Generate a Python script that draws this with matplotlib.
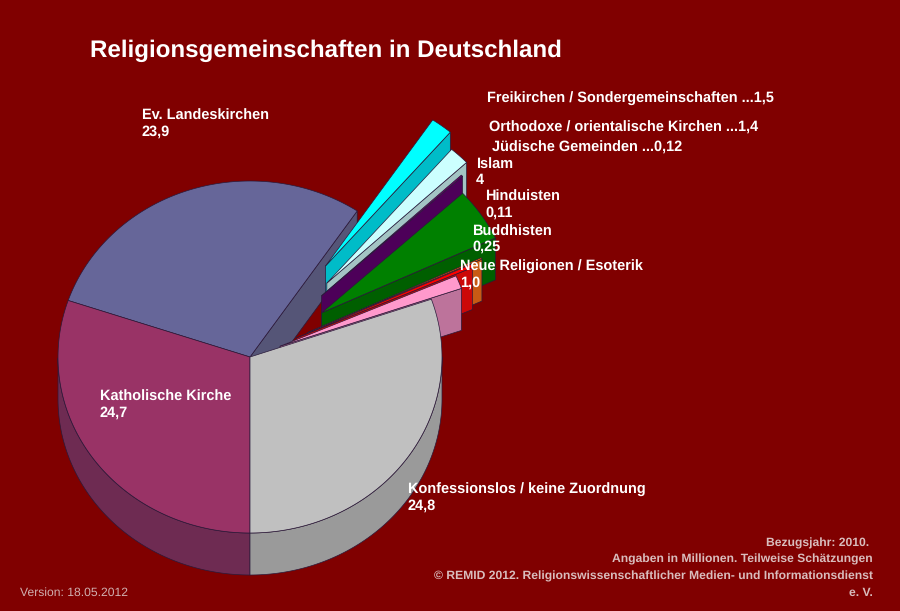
import numpy as np
import matplotlib
matplotlib.use("Agg")
import matplotlib.pyplot as plt

plt.rcParams["text.hinting"] = "none"
plt.rcParams["text.hinting_factor"] = 8

categories = ["Konfessionslos / keine Zuordnung", "Neue Religionen / Esoterik", "Buddhisten", "Hinduisten",
              "Islam", "Jüdische Gemeinden", "Orthodoxe / orientalische Kirchen",
              "Freikirchen / Sondergemeinschaften", "Ev. Landeskirchen", "Katholische Kirche"]
values = [24.8, 1.0, 0.25, 0.11, 4, 0.12, 1.4, 1.5, 23.9, 24.7]
explode = [0, 0.168, 0.265, 0.33, 0.45, 0.51, 0.58, 0.65, 0, 0]
top_colors = ["#c0c0c0", "#ff99cc", "#ff0000", "#ff6600", "#008000", "#660066", "#ccffff", "#00ffff", "#666699", "#993366"]
wall_colors = ["#9a9a9a", "#bd739b", "#cc0808", "#c85a14", "#005f00", "#4d0059", "#a3c4c4", "#00bcc8", "#555577", "#6e2b52"]
draw_order = [8, 7, 6, 5, 4, 3, 2, 1, 9, 0]

W, H = 900, 611
BG = "#800000"
CX, CY, RX, RY, DEPTH = 250, 357, 192, 176, 42

fig = plt.figure(figsize=(9, 6.11), dpi=100, facecolor=BG)
ax = fig.add_axes([0, 0, 1, 1])
ax.set_xlim(-CX / RX, (W - CX) / RX)
ax.set_ylim(-(H - CY) / RY, CY / RY)
ax.axis("off")

d = DEPTH / RY
EDGE = "#2a1a3a"
LW = 0.5

ang = np.cumsum([0] + values) / sum(values) * 360 - 90


def poly(x, y, color):
    ax.fill(x, y, facecolor=color, edgecolor=EDGE, linewidth=LW, joinstyle="round")


for i in draw_order:
    a0, a1 = ang[i], ang[i + 1]
    mid = np.radians((a0 + a1) / 2)
    ox, oy = explode[i] * np.cos(mid), explode[i] * np.sin(mid)
    t = np.radians(np.linspace(a0, a1, 120))
    ax_x, ax_y = ox + np.cos(t), oy + np.sin(t)
    la = np.radians(np.linspace(a0, a1, 240))
    s = np.sin(la) < 0
    if s.any():
        wx, wy = ox + np.cos(la[s]), oy + np.sin(la[s])
        poly(np.r_[wx, wx[::-1]], np.r_[wy, wy[::-1] - d], wall_colors[i])
    if np.cos(np.radians(a0)) > 0 and i != 0:
        ex, ey = ox + np.cos(np.radians(a0)), oy + np.sin(np.radians(a0))
        poly([ox, ex, ex, ox], [oy, ey, ey - d, oy - d], wall_colors[i])
    poly(np.r_[ox, ax_x], np.r_[oy, ax_y], top_colors[i])


def label(x, y, s, **kw):
    kw.setdefault("family", "Liberation Sans")
    kw.setdefault("weight", "bold")
    kw.setdefault("fontsize", 10.45)
    kw.setdefault("color", "white")
    kw.setdefault("va", "baseline")
    fig.text(x / W, 1 - y / H, s, **kw)


label(90, 57, "Religionsgemeinschaften in Deutschland", fontsize=17.4)

label(142, 120, "Ev. Landeskirchen")
label(142, 136, "23,9")
label(487, 103, "Freikirchen / Sondergemeinschaften ...1,5")
label(489, 132, "Orthodoxe / orientalische Kirchen ...1,4")
label(492, 152, "Jüdische Gemeinden ...0,12")
label(476, 169, "Islam")
label(476, 184, "4")
label(485, 201, "Hinduisten")
label(485, 217, "0,11")
label(472, 236, "Buddhisten")
label(472, 251, "0,25")
label(460, 271, "Neue Religionen / Esoterik")
label(460, 287, "1,0")
label(100, 401, "Katholische Kirche")
label(100, 417, "24,7")
label(408, 494, "Konfessionslos / keine Zuordnung")
label(408, 510, "24,8")

FOOT = "#d9bdbd"
foot = dict(fontsize=8.7, color=FOOT, ha="right")
label(873, 546, "Bezugsjahr: 2010. ", **foot)
label(873, 562, "Angaben in Millionen. Teilweise Schätzungen", **foot)
label(873, 579, "© REMID 2012. Religionswissenschaftlicher Medien- und Informationsdienst", **foot)
label(873, 596, "e. V.", **foot)
label(20, 596, "Version: 18.05.2012", weight="normal", fontsize=8.75, color="#d0b0b0")

fig.savefig("out.png", dpi=100, facecolor=BG)
